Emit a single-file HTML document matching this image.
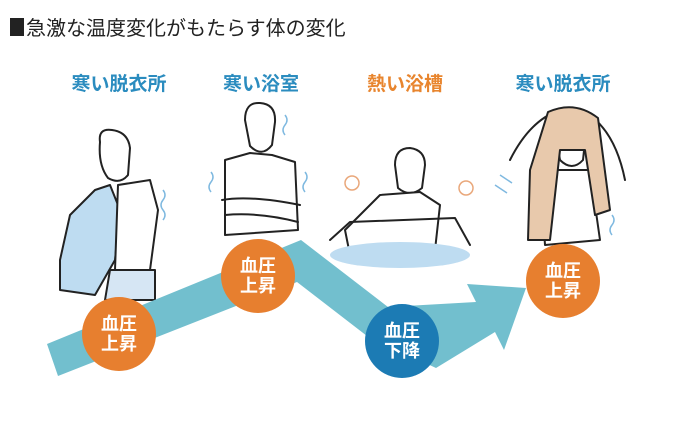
<!DOCTYPE html>
<html><head><meta charset="utf-8"><style>
body{margin:0;width:696px;height:428px;background:#fff;overflow:hidden;font-family:"Liberation Sans","Noto Sans CJK JP",sans-serif}
</style></head><body>
<svg width="696" height="428" viewBox="0 0 696 428" xmlns="http://www.w3.org/2000/svg" style="position:absolute;left:0;top:0">
<rect x="10" y="18" width="14" height="18" fill="#222"/>
<text x="26" y="35" font-size="20" fill="#222" font-family="Liberation Sans, Noto Sans CJK JP, sans-serif">急激な温度変化がもたらす体の変化</text>
<g font-size="19" font-weight="bold" font-family="Liberation Sans, Noto Sans CJK JP, sans-serif" text-anchor="middle">
<text x="119" y="90" fill="#2B8CBF">寒い脱衣所</text>
<text x="261" y="90" fill="#2B8CBF">寒い浴室</text>
<text x="405" y="90" fill="#E8852E">熱い浴槽</text>
<text x="563" y="90" fill="#2B8CBF">寒い脱衣所</text>
</g>
<g fill="none" stroke="#222" stroke-width="2" stroke-linecap="round" stroke-linejoin="round">
<path d="M60,260 L70,215 L95,190 L110,185 L120,210 L115,260 L95,295 L60,290 Z" fill="#BEDCF1"/>
<path d="M100,142 Q98,128 112,130 Q128,132 130,148 L128,175 Q120,185 108,178 Q98,165 100,142Z" fill="#fff"/>
<path d="M118,185 L150,180 L158,210 L150,270 L115,270 Z" fill="#fff"/>
<path d="M110,270 L155,270 L155,300 L105,300Z" fill="#D6E6F4"/>
<path d="M245,120 Q245,102 260,103 Q276,104 275,122 L272,145 Q262,158 250,146 Z" fill="#fff"/>
<path d="M225,160 L250,153 L272,155 L295,162 L298,230 L225,235 Z" fill="#fff"/>
<path d="M222,200 Q250,195 300,205 M225,215 Q260,212 298,222"/>
<path d="M395,165 Q395,148 410,148 Q425,150 425,165 L422,188 Q410,198 398,188 Z" fill="#fff"/>
<path d="M345,230 L380,195 L420,192 L440,205 L435,250 L350,255 Z" fill="#fff"/>
<path d="M330,240 L350,222 L455,218 L470,245"/>
<circle cx="352" cy="183" r="7" stroke="#E9A77A" stroke-width="1.5"/>
<circle cx="466" cy="188" r="7" stroke="#E9A77A" stroke-width="1.5"/>
<path d="M555,130 Q555,110 570,112 Q586,114 586,132 L583,160 Q572,172 560,160 Z" fill="#fff"/>
<path d="M510,160 Q530,120 560,110 M625,180 Q615,130 585,112"/>
<path d="M540,170 L590,170 L600,240 L545,245Z" fill="#fff"/>
<path d="M548,112 Q575,100 598,118 L610,210 L595,215 L585,150 L560,150 L550,240 L528,240 L530,170 Z" fill="#E8C9AC"/>
</g>
<ellipse cx="400" cy="255" rx="70" ry="13" fill="#BEDCF1"/>
<g stroke="#7FB9E0" stroke-width="1.5" fill="none">
<path d="M163,190 q4,5 0,10 q-4,5 0,10 q4,5 0,10"/>
<path d="M285,115 q4,5 0,10 q-4,5 0,10"/>
<path d="M211,172 q4,5 0,10 q-4,5 0,10"/>
<path d="M305,172 q4,5 0,10 q-4,5 0,10"/>
<path d="M500,175 l12,8 M495,185 l12,8"/>
<path d="M612,215 q4,5 0,10 q-4,5 0,10"/>
</g>
<polygon points="47,344 301,240 388,307 476,302 467,284 526,288 504,350 495,332 436,368 367,336 297,282 58,376" fill="#72BFCE"/>
<g font-size="18" font-weight="bold" fill="#fff" text-anchor="middle" font-family="Liberation Sans, Noto Sans CJK JP, sans-serif">
<circle cx="119" cy="334" r="37" fill="#E77F2F"/>
<text x="119" y="330">血圧</text><text x="119" y="350">上昇</text>
<circle cx="258" cy="276" r="37" fill="#E77F2F"/>
<text x="258" y="272">血圧</text><text x="258" y="292">上昇</text>
<circle cx="402" cy="341" r="37" fill="#1C7BB4"/>
<text x="402" y="337">血圧</text><text x="402" y="357">下降</text>
<circle cx="563" cy="281" r="37" fill="#E77F2F"/>
<text x="563" y="277">血圧</text><text x="563" y="297">上昇</text>
</g>
</svg>
</body></html>
